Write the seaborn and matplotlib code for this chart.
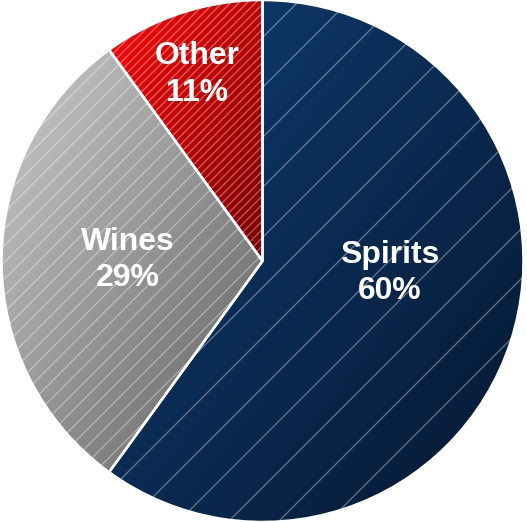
import numpy as np
import matplotlib
matplotlib.use("Agg")
import matplotlib.pyplot as plt
import seaborn as sns
from matplotlib.colors import to_rgb

# ---- data ----
categories = ["Spirits", "Wines", "Other"]
shares = [60, 30, 10]
pct_labels = ["60%", "29%", "11%"]

# ---- style ----
grad_start = ["#0f3d73", "#cdcdcd", "#ff0a0a"]
grad_end = ["#061831", "#5e5e5e", "#780000"]
hatches = ["/", "///", "//////"]
label_pos = [(0.488, -0.046), (-0.515, 0.004), (-0.251, 0.716)]

sns.set_theme(style="white")
plt.rcParams['font.family'] = ['Liberation Sans', 'DejaVu Sans']
plt.rcParams['hatch.linewidth'] = 0.6

dpi = 150
W, H = 527, 522
fig = plt.figure(figsize=(W / dpi, H / dpi), dpi=dpi)
ax = fig.add_axes([0, 0, 1, 1])

R = 261.0
cx, cy = 262.5, 261.0

# base wedges (transparent, used as clip paths for the gradients)
wedges, _ = ax.pie(shares, startangle=90, counterclock=False, radius=1,
                   colors=['none'] * len(shares), wedgeprops=dict(linewidth=0))

for w, c0, c1 in zip(wedges, grad_start, grad_end):
    ext = w.get_path().get_extents()
    x0, y0, x1, y1 = ext.x0, ext.y0, ext.x1, ext.y1
    n = 300
    X, Y = np.meshgrid(np.linspace(0, 1, n), np.linspace(0, 1, n))
    t = (X + (1 - Y)) / 2.0
    a, b = np.array(to_rgb(c0)), np.array(to_rgb(c1))
    img = a[None, None, :] * (1 - t[..., None]) + b[None, None, :] * t[..., None]
    im = ax.imshow(img, extent=(x0, x1, y0, y1), origin='lower', zorder=1,
                   interpolation='bilinear')
    im.set_clip_path(w)

# hatch overlay
hw, _ = ax.pie(shares, startangle=90, counterclock=False, radius=1,
               colors=['none'] * len(shares),
               wedgeprops=dict(linewidth=0, edgecolor=(1, 1, 1, 0.38)))
for w, h in zip(hw, hatches):
    w.set_hatch(h)
    w.set_zorder(2)

# white separators
bw, _ = ax.pie(shares, startangle=90, counterclock=False, radius=1,
               colors=['none'] * len(shares),
               wedgeprops=dict(linewidth=1.2, edgecolor='white'))
for w in bw:
    w.set_zorder(3)

for cat, pct, (x, y) in zip(categories, pct_labels, label_pos):
    ax.text(x, y, f"{cat}\n{pct}", ha='center', va='center', color='white',
            fontsize=15.3, fontweight='bold', linespacing=1.3, zorder=4)

ax.set_xlim(-cx / R, (W - cx) / R)
ax.set_ylim(-(H - cy) / R, cy / R)
ax.set_aspect('auto')
ax.axis('off')

fig.savefig("out.png", dpi=dpi)
